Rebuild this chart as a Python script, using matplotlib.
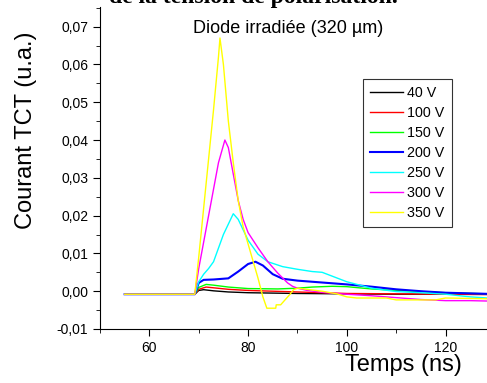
import matplotlib
matplotlib.use('Agg')
import matplotlib.pyplot as plt
from matplotlib.ticker import MultipleLocator, FuncFormatter

plt.rcParams['font.family'] = ['Liberation Sans', 'DejaVu Sans']

# --- data (time in ns, current in a.u.) ---
t_40 = [55, 69.2, 70.0, 71, 73, 76, 80, 85, 90, 100, 110, 120, 128.5]
i_40 = [-0.0008, -0.0008, 0.0002, 0.0004, 0.0001, -0.0002, -0.0004, -0.0005,
        -0.0006, -0.0007, -0.0008, -0.0008, -0.0008]

t_100 = [55, 69.2, 70, 71.5, 73, 76, 80, 85, 90, 95, 100, 110, 120, 128.5]
i_100 = [-0.0008, -0.0008, 0.0005, 0.0011, 0.0009, 0.0005, 0.0002, 0.0,
         -0.0002, -0.0004, -0.0006, -0.0007, -0.0008, -0.0009]

t_150 = [55, 69.2, 70, 71.5, 73, 76, 80, 86, 90, 93, 97, 100, 105, 110, 120, 128.5]
i_150 = [-0.0008, -0.0008, 0.0010, 0.0018, 0.0016, 0.0011, 0.0007, 0.0006,
         0.0008, 0.0011, 0.0013, 0.0012, 0.0006, 0.0002, -0.0004, -0.0007]

t_200 = [55, 69.2, 70, 71, 73, 76, 78, 80, 81.5, 83, 85, 87, 90, 95, 100,
         105, 110, 115, 120, 128.5]
i_200 = [-0.0008, -0.0008, 0.0022, 0.0030, 0.0031, 0.0034, 0.0052, 0.0072,
         0.0078, 0.0068, 0.0045, 0.0033, 0.0028, 0.0023, 0.0018, 0.0012,
         0.0005, 0.0, -0.0004, -0.0007]

t_250 = [55, 69.2, 70, 71, 72, 73, 75, 77, 78, 80, 82, 84, 87, 90, 93, 95, 97,
         100, 105, 110, 115, 120, 125, 128.5]
i_250 = [-0.0008, -0.0008, 0.0025, 0.0045, 0.0060, 0.0078, 0.0150, 0.0205,
         0.0190, 0.0135, 0.0098, 0.0078, 0.0065, 0.0058, 0.0052, 0.0050,
         0.0040, 0.0025, 0.0008, -0.0001, -0.0004, -0.0008, -0.0015, -0.0018]

t_300 = [55, 69.2, 70, 71, 72, 73, 74, 75.3, 76, 77, 78, 79, 80, 82, 84, 86,
         88, 89, 90, 92, 95, 100, 105, 110, 115, 120, 125, 128.5]
i_300 = [-0.0008, -0.0008, 0.006, 0.013, 0.020, 0.027, 0.034, 0.040, 0.038,
         0.031, 0.024, 0.019, 0.0155, 0.0115, 0.0078, 0.0048, 0.0022, 0.0013,
         0.0008, 0.0002, -0.0003, -0.0008, -0.0012, -0.0017, -0.0022,
         -0.0025, -0.0025, -0.0026]

t_350 = [55, 69.2, 70, 71, 72, 73, 74, 74.3, 75, 76, 77, 78, 79, 80, 81, 82,
         83, 83.8, 85.6, 85.7, 86.6, 88.5, 89.2, 90, 95, 98, 100, 102, 108,
         110, 118, 120, 128.5]
i_350 = [-0.0008, -0.0008, 0.009, 0.022, 0.035, 0.048, 0.062, 0.067, 0.060,
         0.045, 0.034, 0.024, 0.017, 0.0125, 0.008, 0.0035, -0.0015, -0.0045,
         -0.0045, -0.0036, -0.0036, -0.0008, 0.0004, 0.0008, 0.0, -0.0007,
         -0.0015, -0.0018, -0.0018, -0.0023, -0.0023, -0.0018, -0.0020]

labels = ['40 V', '100 V', '150 V', '200 V', '250 V', '300 V', '350 V']
colors = ['black', '#ff0000', '#00ff00', '#0000ff', '#00ffff', '#ff00ff', '#ffff00']
series = [(t_40, i_40), (t_100, i_100), (t_150, i_150), (t_200, i_200),
          (t_250, i_250), (t_300, i_300), (t_350, i_350)]

fig = plt.figure(figsize=(4.87, 3.83), dpi=100)
ax = fig.add_axes([100/487, 1 - 329/383, 1 - 100/487, (329 - 7)/383])

for (t, v), lab, c in zip(series, labels, colors):
    lw = 1.5 if c == '#0000ff' else 1.0
    ax.plot(t, v, color=c, lw=lw, label=lab)

ax.set_xlim(50, 128.4)
ax.set_ylim(-0.01, 0.0752)

ax.spines['top'].set_visible(False)
ax.spines['right'].set_visible(False)
ax.xaxis.set_major_locator(MultipleLocator(20))
ax.xaxis.set_minor_locator(MultipleLocator(10))
ax.yaxis.set_major_locator(MultipleLocator(0.01))
ax.yaxis.set_minor_locator(MultipleLocator(0.005))
ax.yaxis.set_major_formatter(FuncFormatter(lambda y, p: ('%.2f' % y).replace('.', ',').replace('-0,00', '0,00')))
ax.tick_params(which='major', direction='out', length=5, labelsize=10)
ax.tick_params(which='minor', direction='out', length=3)

ax.text(0.485, 0.932, 'Diode irradiée (320 µm)', transform=ax.transAxes,
        ha='center', va='center', fontsize=13)

leg = ax.legend(loc='upper left', bbox_to_anchor=(363/487, 1 - 79/383),
                bbox_transform=fig.transFigure, frameon=True, fancybox=False,
                edgecolor='black', fontsize=10.3, handlelength=2.3,
                handletextpad=0.3, labelspacing=0.42, borderpad=0.5,
                borderaxespad=0)
leg.get_frame().set_linewidth(0.8)

fig.text(26/487, 1 - 130/383, 'Courant TCT (u.a.)', rotation=90,
         ha='center', va='center', fontsize=17)
fig.text(403/487, 1 - 365/383, 'Temps (ns)', ha='center', va='center', fontsize=17)

# caption above the plot, cut off by the top edge as in the original
fig.text(253/487, 1 - 3/383, 'de la tension de polarisation.', ha='center',
         va='baseline', fontsize=17, fontweight='bold', family='Liberation Serif')

fig.savefig('out.png', dpi=100)
